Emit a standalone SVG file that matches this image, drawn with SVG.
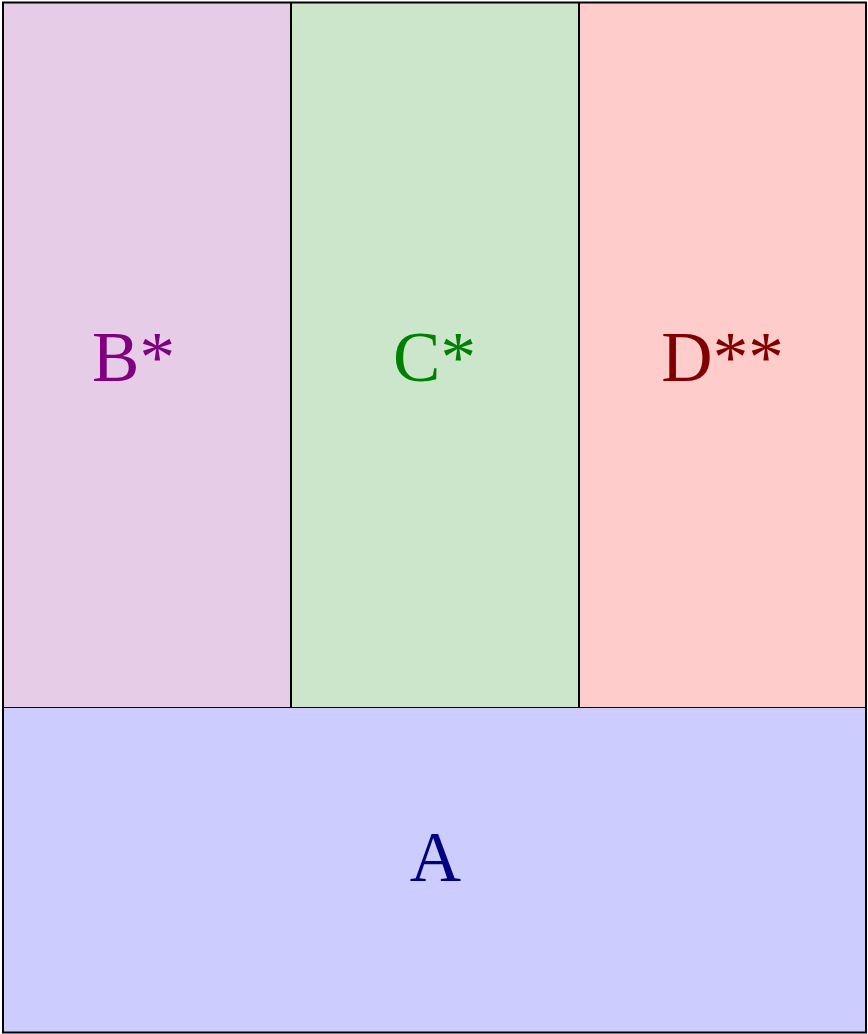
<svg xmlns="http://www.w3.org/2000/svg" width="868" height="1034" viewBox="0 0 868 1034">
<style>
.lbl{font-family:"Liberation Serif","Times New Roman",serif;font-size:71px;text-anchor:middle}
.box{stroke:none}
.ln{stroke:#000;fill:none}
</style>
<rect width="868" height="1034" fill="#fff"/>
<g id="B"><rect class="box" x="3" y="3" width="288" height="704" fill="#e6cce6"/><text class="lbl" x="133.5" y="381" fill="#800080">B*</text></g>
<g id="C"><rect class="box" x="291" y="3" width="288" height="704" fill="#cce6cc"/><text class="lbl" x="434.5" y="381" fill="#008000">C*</text></g>
<g id="D"><rect class="box" x="579" y="3" width="288" height="704" fill="#ffcccc"/><text class="lbl" x="722.5" y="381" fill="#800000">D**</text></g>
<g id="A"><rect class="box" x="3" y="707" width="864" height="326" fill="#ccccff"/><text class="lbl" x="435.5" y="881" fill="#000080">A</text></g>
<g id="connectors">
<line class="ln" x1="3" y1="707.5" x2="867" y2="707.5" stroke-width="1"/>
<line class="ln" x1="291" y1="2" x2="291" y2="708" stroke-width="2"/>
<line class="ln" x1="579" y1="2" x2="579" y2="708" stroke-width="2"/>
<rect class="ln" x="3" y="2.5" width="863" height="1030" stroke-width="2"/>
</g>
</svg>
